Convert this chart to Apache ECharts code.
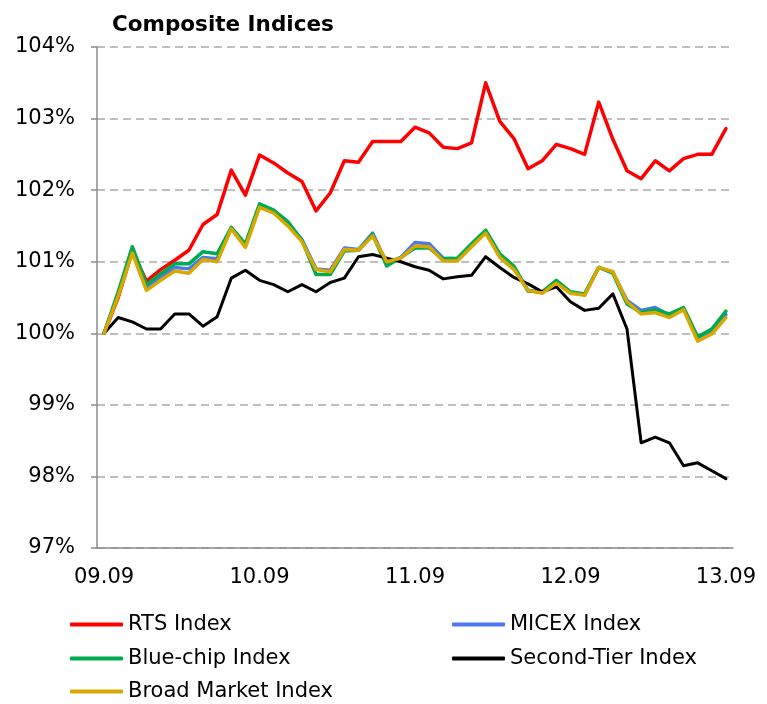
<!DOCTYPE html>
<html>
<head>
<meta charset="utf-8">
<script src="https://cdn.jsdelivr.net/npm/echarts@6/dist/echarts.min.js"></script>
<style>
html,body{margin:0;padding:0;background:#fff;}
#chart{width:767px;height:704px;}
</style>
</head>
<body>
<div id="chart"></div>
<script>
const titleText = 'Composite Indices';
const tickLabels = ['09.09', '10.09', '11.09', '12.09', '13.09'];
const pointsPerDay = 11;
const yTicks = [97, 98, 99, 100, 101, 102, 103, 104];

const rts = [100.00, 100.50, 101.15, 100.73, 100.89, 101.02, 101.16, 101.52, 101.66, 102.28,
  101.93, 102.49, 102.38, 102.24, 102.12, 101.71, 101.96, 102.41, 102.39, 102.68,
  102.68, 102.68, 102.88, 102.80, 102.60, 102.58, 102.66, 103.50, 102.96, 102.72,
  102.30, 102.41, 102.64, 102.58, 102.50, 103.23, 102.71, 102.27, 102.16, 102.41,
  102.27, 102.44, 102.50, 102.50, 102.86];
const micex = [100.00, 100.55, 101.18, 100.64, 100.78, 100.92, 100.90, 101.06, 101.04, 101.47,
  101.22, 101.78, 101.70, 101.54, 101.31, 100.90, 100.88, 101.19, 101.17, 101.40,
  100.98, 101.06, 101.27, 101.25, 101.05, 101.04, 101.23, 101.42, 101.09, 100.92,
  100.60, 100.57, 100.72, 100.57, 100.54, 100.92, 100.85, 100.46, 100.32, 100.36,
  100.25, 100.35, 99.93, 100.03, 100.26];
const blueChip = [100.00, 100.58, 101.21, 100.68, 100.83, 100.97, 100.97, 101.14, 101.11, 101.48,
  101.25, 101.81, 101.72, 101.56, 101.30, 100.82, 100.82, 101.15, 101.16, 101.38,
  100.94, 101.06, 101.19, 101.19, 101.04, 101.05, 101.25, 101.44, 101.11, 100.94,
  100.59, 100.58, 100.74, 100.58, 100.55, 100.92, 100.84, 100.41, 100.29, 100.33,
  100.27, 100.36, 99.95, 100.06, 100.31];
const secondTier = [100.00, 100.22, 100.16, 100.06, 100.06, 100.27, 100.27, 100.10, 100.23, 100.77,
  100.88, 100.74, 100.68, 100.58, 100.68, 100.58, 100.71, 100.77, 101.07, 101.10,
  101.05, 101.00, 100.93, 100.88, 100.76, 100.79, 100.81, 101.07, 100.92, 100.78,
  100.69, 100.58, 100.65, 100.44, 100.32, 100.35, 100.55, 100.06, 98.47, 98.55,
  98.47, 98.15, 98.19, 98.08, 97.97];
const broadMarket = [100.00, 100.52, 101.12, 100.60, 100.74, 100.87, 100.84, 101.03, 101.00, 101.46,
  101.20, 101.76, 101.68, 101.50, 101.28, 100.89, 100.86, 101.17, 101.16, 101.36,
  101.00, 101.05, 101.22, 101.21, 101.01, 101.01, 101.21, 101.40, 101.06, 100.89,
  100.60, 100.56, 100.70, 100.56, 100.53, 100.92, 100.86, 100.44, 100.27, 100.29,
  100.22, 100.33, 99.89, 99.99, 100.22];

const seriesNames = ['RTS Index', 'MICEX Index', 'Blue-chip Index', 'Second-Tier Index', 'Broad Market Index'];
const seriesData = [rts, micex, blueChip, secondTier, broadMarket];
const seriesColors = ['#FF0000', '#4A78F0', '#00AA4F', '#000000', '#D8A800'];

const categories = rts.map((_, i) => String(i));
const FONT = 'DejaVu Sans';

const chart = echarts.init(document.getElementById('chart'), null, {renderer: 'canvas'});

const legendPos = [
  {left: 70, top: 614},
  {left: 452, top: 614},
  {left: 70, top: 648},
  {left: 452, top: 648},
  {left: 70, top: 681}
];

const option = {
  animation: false,
  backgroundColor: '#ffffff',
  title: {
    text: titleText,
    left: 112,
    top: 14,
    padding: 0,
    textStyle: {fontFamily: FONT, fontWeight: 'bold', fontSize: 21.5, color: '#000'}
  },
  legend: seriesNames.map((n, i) => ({
    data: [n],
    left: legendPos[i].left,
    top: legendPos[i].top,
    padding: 0,
    icon: 'roundRect',
    itemWidth: 53,
    itemHeight: 4,
    textStyle: {fontFamily: FONT, fontSize: 21, color: '#000'},
    selectedMode: false
  })),
  grid: {left: 97, right: 34, top: 47, bottom: 156, containLabel: false},
  xAxis: {
    type: 'category',
    data: categories,
    boundaryGap: true,
    axisLine: {show: true, lineStyle: {color: '#8C8C8C', width: 1.5}},
    axisTick: {show: false},
    axisLabel: {
      interval: (i) => i % pointsPerDay === 0,
      formatter: (v, i) => tickLabels[Math.round(i / pointsPerDay)] || '',
      fontFamily: FONT, fontSize: 21, color: '#000', margin: 19
    },
    splitLine: {show: false}
  },
  yAxis: {
    type: 'value',
    min: yTicks[0],
    max: yTicks[yTicks.length - 1],
    interval: 1,
    axisLine: {show: true, lineStyle: {color: '#8C8C8C', width: 1.5}},
    axisTick: {show: true, inside: false, length: 6, lineStyle: {color: '#8C8C8C', width: 1.5}},
    axisLabel: {formatter: '{value}%', fontFamily: FONT, fontSize: 21, color: '#000', margin: 22},
    splitLine: {show: true, lineStyle: {color: '#BFBFBF', width: 2, type: [8, 5]}}
  },
  series: seriesNames.map((n, i) => ({
    name: n,
    type: 'line',
    data: seriesData[i],
    symbol: 'none',
    smooth: false,
    color: seriesColors[i],
    lineStyle: {color: seriesColors[i], width: i === 3 ? 3 : 3.5, cap: 'round', join: 'round'},
    z: 2 + i
  }))
};
chart.setOption(option);
</script>
</body>
</html>
